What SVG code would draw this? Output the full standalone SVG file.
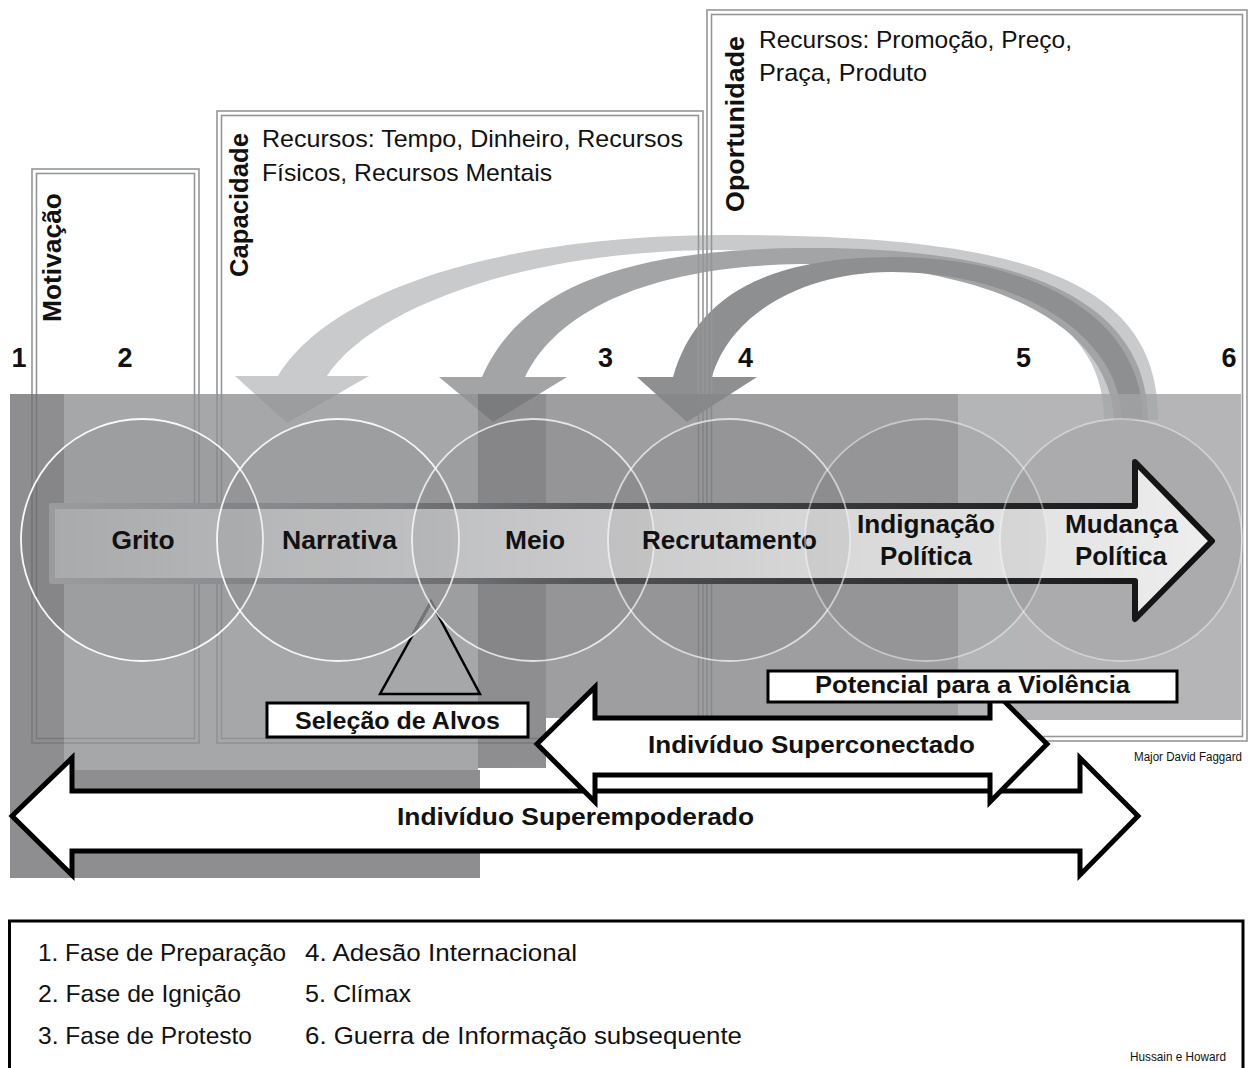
<svg xmlns="http://www.w3.org/2000/svg" width="1249" height="1068" viewBox="0 0 1249 1068">
<defs>
  <linearGradient id="gFill" gradientUnits="userSpaceOnUse" x1="52" y1="0" x2="1214" y2="0">
    <stop offset="0" stop-color="#b3b4b6"/>
    <stop offset="1" stop-color="#fbfbfb"/>
  </linearGradient>
  <linearGradient id="gStroke" gradientUnits="userSpaceOnUse" x1="52" y1="0" x2="1214" y2="0">
    <stop offset="0" stop-color="#a3a4a6"/>
    <stop offset="0.3" stop-color="#85868a"/>
    <stop offset="0.45" stop-color="#5a5b5d"/>
    <stop offset="0.65" stop-color="#3e3f41"/>
    <stop offset="1" stop-color="#111111"/>
  </linearGradient>
  <clipPath id="cInCircles"><circle cx="338" cy="540" r="121"/><circle cx="533" cy="540" r="121"/></clipPath>
</defs>
<style>
  .box{fill:none;stroke:#959698;stroke-width:1.6}
  .ring{fill:#000;fill-opacity:0.05;stroke:#fff;stroke-width:1.8}
  .t{font-family:"Liberation Sans",Arial,sans-serif;fill:#111}
  .b{font-weight:bold}
  .lab{font-size:26px;font-weight:bold;text-anchor:middle}
  .num{font-size:27px;font-weight:bold;text-anchor:middle}
  .res{font-size:24px}
  .tag{fill:#fff;stroke:#000;stroke-width:3}
  .big{fill:#fff;stroke:#000;stroke-width:5;stroke-linejoin:miter}
  .tagtxt{font-size:24px;font-weight:bold;text-anchor:middle}
  .leg{font-size:24px}
  .small{font-size:12px}
</style>

<!-- curved arrows (connectors) -->
<g id="connectors">
  <path fill="#c9cacc" d="M1158,420 C1160,270 1000,235 720,235 C500,236 330,290 278,376 L235,376 L287,423 L369,376 L327,376 C370,310 520,250 720,250 C960,250 1105,300 1104,420 Z"/>
  <path fill="#a3a4a6" d="M1148,420 C1148,290 1000,246 800,248 C620,250 520,290 482,377 L439,377 L493,422 L567,377 L525,377 C560,305 660,266 800,264 C980,262 1110,320 1114,420 Z"/>
  <path fill="#8e8f91" d="M1143,420 C1143,310 1020,256 890,257 C760,258 695,300 673,377 L637,377 L687,422 L757,377 L712,377 C730,315 800,273 890,272 C1010,271 1120,330 1122,420 Z"/>
</g>

<!-- resource boxes -->
<g id="box-motivacao">
  <rect class="box" x="32" y="169" width="167" height="574"/>
  <rect class="box" x="36.5" y="173.5" width="158" height="565"/>
</g>
<g id="box-capacidade">
  <rect class="box" x="217" y="111" width="486" height="632"/>
  <rect class="box" x="221.5" y="115.5" width="477" height="623"/>
</g>
<g id="box-oportunidade">
  <rect class="box" x="707" y="10" width="540" height="731"/>
  <rect class="box" x="711.5" y="14.5" width="531" height="722"/>
</g>

<!-- phase background -->
<g id="phase-bg" opacity="0.8">
  <rect x="10" y="394" width="54" height="484" fill="#727375"/>
  <rect x="64" y="394" width="414" height="376" fill="#919294"/>
  <rect x="478" y="394" width="68" height="374" fill="#727375"/>
  <rect x="64" y="770" width="416" height="108" fill="#727375"/>
  <rect x="546" y="394" width="412" height="324" fill="#868789"/>
  <rect x="958" y="394" width="283" height="326" fill="#a2a3a5"/>
</g>

<!-- main process arrow -->
<path id="main-arrow" d="M52,506 H1135 V462 L1212,541 L1135,619 V581 H52 Z" fill="url(#gFill)" stroke="url(#gStroke)" stroke-width="6" stroke-linejoin="round"/>

<!-- target selection triangle -->
<g id="triangle">
  <polygon points="431,602 380,694 480,694" fill="none" stroke="#000" stroke-width="2.5"/>
  <polygon points="431,602 380,694 480,694" fill="none" stroke="#7c7d7f" stroke-width="2.8" clip-path="url(#cInCircles)"/>
</g>

<!-- stage circles -->
<g id="node-grito">
  <circle class="ring" cx="142" cy="540" r="121" stroke-opacity="0.95"/>
  <text class="t lab" x="143" y="549" textLength="63" lengthAdjust="spacingAndGlyphs">Grito</text>
</g>
<g id="node-narrativa">
  <circle class="ring" cx="338" cy="540" r="121" stroke-opacity="0.9"/>
  <text class="t lab" x="339.5" y="549" textLength="115" lengthAdjust="spacingAndGlyphs">Narrativa</text>
</g>
<g id="node-meio">
  <circle class="ring" cx="533" cy="540" r="121" stroke-opacity="0.75"/>
  <text class="t lab" x="535" y="549" textLength="60" lengthAdjust="spacingAndGlyphs">Meio</text>
</g>
<g id="node-recrutamento">
  <circle class="ring" cx="729" cy="540" r="121" stroke-opacity="0.65"/>
  <text class="t lab" x="729.5" y="549" textLength="175" lengthAdjust="spacingAndGlyphs">Recrutamento</text>
</g>
<g id="node-indignacao">
  <circle class="ring" cx="926" cy="540" r="121" stroke-opacity="0.45"/>
  <text class="t lab" x="926" y="533" textLength="138" lengthAdjust="spacingAndGlyphs">Indignação</text>
  <text class="t lab" x="926" y="565" textLength="92" lengthAdjust="spacingAndGlyphs">Política</text>
</g>
<g id="node-mudanca">
  <circle class="ring" cx="1121" cy="540" r="121" stroke-opacity="0.4"/>
  <text class="t lab" x="1121.5" y="533" textLength="113" lengthAdjust="spacingAndGlyphs">Mudança</text>
  <text class="t lab" x="1121" y="565" textLength="92" lengthAdjust="spacingAndGlyphs">Política</text>
</g>

<!-- box titles -->
<g id="titles">
  <text class="t b" font-size="26" transform="translate(61,322) rotate(-90)" textLength="129" lengthAdjust="spacingAndGlyphs">Motivação</text>
  <text class="t b" font-size="26" transform="translate(248,277) rotate(-90)" textLength="144" lengthAdjust="spacingAndGlyphs">Capacidade</text>
  <text class="t b" font-size="26" transform="translate(744,212) rotate(-90)" textLength="176" lengthAdjust="spacingAndGlyphs">Oportunidade</text>
  <text class="t res" x="262" y="147" textLength="421" lengthAdjust="spacingAndGlyphs">Recursos: Tempo, Dinheiro, Recursos</text>
  <text class="t res" x="262" y="181" textLength="290" lengthAdjust="spacingAndGlyphs">Físicos, Recursos Mentais</text>
  <text class="t res" x="759" y="48" textLength="313" lengthAdjust="spacingAndGlyphs">Recursos: Promoção, Preço,</text>
  <text class="t res" x="759" y="81" textLength="168" lengthAdjust="spacingAndGlyphs">Praça, Produto</text>
</g>

<!-- phase numbers -->
<g id="numbers">
  <text class="t num" x="19" y="367">1</text>
  <text class="t num" x="125" y="367">2</text>
  <text class="t num" x="605.5" y="367">3</text>
  <text class="t num" x="745.5" y="367">4</text>
  <text class="t num" x="1023.5" y="367">5</text>
  <text class="t num" x="1229" y="367">6</text>
</g>

<!-- span arrows -->
<g id="span-superempoderado">
  <path class="big" d="M12,816 L72,758 V791 H1080 V758 L1138,816 L1080,875 V851 H72 V875 Z"/>
  <text class="t tagtxt" x="575.5" y="825" textLength="357" lengthAdjust="spacingAndGlyphs">Indivíduo Superempoderado</text>
</g>
<g id="span-superconectado">
  <path class="big" d="M537,744 L595,687 V718 H990 V687 L1047,744 L990,802 V775 H595 V802 Z"/>
  <text class="t tagtxt" x="811.5" y="753" textLength="327" lengthAdjust="spacingAndGlyphs">Indivíduo Superconectado</text>
</g>

<!-- label boxes -->
<g id="label-selecao">
  <rect class="tag" x="267" y="703" width="261" height="34"/>
  <text class="t tagtxt" x="397.5" y="729" textLength="205" lengthAdjust="spacingAndGlyphs">Seleção de Alvos</text>
</g>
<g id="label-potencial">
  <rect class="tag" x="768" y="671" width="409" height="31"/>
  <text class="t tagtxt" x="972.5" y="693" textLength="315" lengthAdjust="spacingAndGlyphs">Potencial para a Violência</text>
</g>

<text class="t small" x="1134" y="761" textLength="108" lengthAdjust="spacingAndGlyphs">Major David Faggard</text>

<!-- legend -->
<g id="legend">
  <path d="M9.5,1070 V921 H1243 V1070" fill="none" stroke="#000" stroke-width="3"/>
  <text class="t leg" x="38" y="961" textLength="248" lengthAdjust="spacingAndGlyphs">1. Fase de Preparação</text>
  <text class="t leg" x="305" y="961" textLength="272" lengthAdjust="spacingAndGlyphs">4. Adesão Internacional</text>
  <text class="t leg" x="38" y="1002" textLength="203" lengthAdjust="spacingAndGlyphs">2. Fase de Ignição</text>
  <text class="t leg" x="305" y="1002" textLength="106" lengthAdjust="spacingAndGlyphs">5. Clímax</text>
  <text class="t leg" x="38" y="1044" textLength="214" lengthAdjust="spacingAndGlyphs">3. Fase de Protesto</text>
  <text class="t leg" x="305" y="1044" textLength="437" lengthAdjust="spacingAndGlyphs">6. Guerra de Informação subsequente</text>
  <text class="t" font-size="13" x="1130" y="1061" textLength="96" lengthAdjust="spacingAndGlyphs">Hussain e Howard</text>
</g>
</svg>
